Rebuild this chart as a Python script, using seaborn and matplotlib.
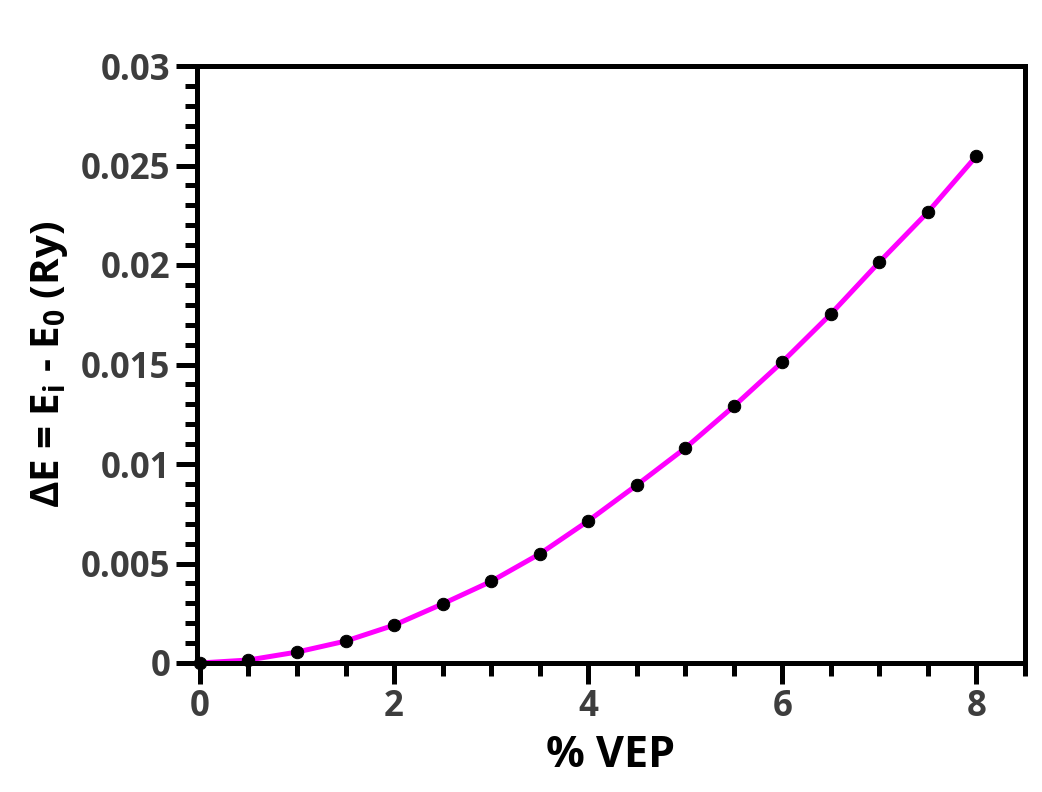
import matplotlib
matplotlib.use("Agg")
import matplotlib.pyplot as plt
import seaborn as sns
import pandas as pd
from matplotlib.ticker import MultipleLocator

vep = [0, 0.5, 1.0, 1.5, 2.0, 2.5, 3.0, 3.5, 4.0, 4.5, 5.0, 5.5, 6.0, 6.5, 7.0, 7.5, 8.0]
delta_e = [0.0, 0.00015, 0.00055, 0.0011, 0.0019, 0.00297, 0.0041, 0.00548, 0.00714,
           0.00894, 0.0108, 0.0129, 0.01513, 0.01754, 0.02015, 0.02266, 0.02548]
y_ticks = [0, 0.005, 0.01, 0.015, 0.02, 0.025, 0.03]
y_tick_labels = ["0", "0.005", "0.01", "0.015", "0.02", "0.025", "0.03"]
x_ticks = [0, 2, 4, 6, 8]

df = pd.DataFrame({"vep": vep, "de": delta_e})

sns.set_style("white")
plt.rcParams["font.family"] = ["Open Sans", "DejaVu Sans"]
plt.rcParams["font.weight"] = "bold"
plt.rcParams["mathtext.fontset"] = "custom"
plt.rcParams["mathtext.rm"] = "Open Sans:bold"
plt.rcParams["mathtext.it"] = "Open Sans:bold"
plt.rcParams["mathtext.bf"] = "Open Sans:bold"
plt.rcParams["mathtext.default"] = "regular"

fig = plt.figure(figsize=(10.42, 7.92), dpi=100)
ax = fig.add_axes([197/1042, 1 - 663/792, (1025-197)/1042, (663-66)/792])

sns.lineplot(data=df, x="vep", y="de", ax=ax, color="#ff00ff", linewidth=3.6, zorder=2)
sns.scatterplot(data=df, x="vep", y="de", ax=ax, color="black", s=80, edgecolor="black",
                zorder=3, clip_on=False)

ax.set_xlim(-0.03, 8.5)
ax.set_ylim(0, 0.03)
ax.set_xticks(x_ticks)
ax.set_xticklabels([str(t) for t in x_ticks])
ax.set_yticks(y_ticks)
ax.set_yticklabels(y_tick_labels)
ax.xaxis.set_minor_locator(MultipleLocator(0.5))
ax.yaxis.set_minor_locator(MultipleLocator(0.001))

for s in ax.spines.values():
    s.set_linewidth(3.6)
    s.set_color("black")

ax.tick_params(axis="both", which="major", direction="out", length=15, width=3.6,
               color="black", labelsize=25, labelcolor="#3d3d3d", pad=4)
ax.tick_params(axis="both", which="minor", direction="out", length=9, width=3.6, color="black")
ax.tick_params(top=False, right=False, which="both")
ax.tick_params(axis="x", which="both", bottom=True)
ax.tick_params(axis="y", which="both", left=True)

for lab in ax.get_xticklabels() + ax.get_yticklabels():
    lab.set_fontweight("bold")

ax.set_xlabel("% VEP", fontsize=31, fontweight="bold", color="black", labelpad=6)
ax.set_ylabel(r"ΔE = E$_{i}$ - E$_{0}$ (Ry)", fontsize=29, fontweight="bold", color="black", labelpad=8)

fig.savefig("out.png", dpi=100)
